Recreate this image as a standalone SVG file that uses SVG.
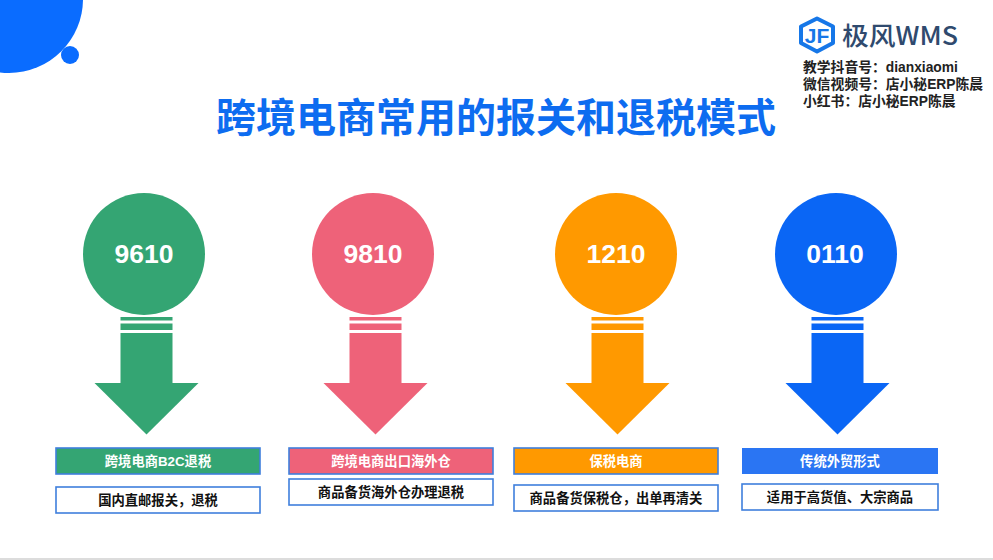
<svg xmlns="http://www.w3.org/2000/svg" width="993" height="560" viewBox="0 0 993 560">
<defs>
<style>
text{font-family:"Liberation Sans","Noto Sans CJK SC",sans-serif;font-weight:700;}
.t{font-family:"Noto Sans CJK SC",sans-serif;font-size:40px;fill:#0d6cf0;text-anchor:middle;}
.n{font-size:26.500px;fill:#fff;text-anchor:middle;}
.h{font-size:13.300px;fill:#fff;text-anchor:middle;}
.d{font-size:13.300px;fill:#111;text-anchor:middle;}
.s{font-size:13.800px;fill:#222;}
.b{fill:#fff;stroke:#3f7fdc;stroke-width:1.6;}
.hb{stroke:#3f7fdc;stroke-width:1.6;}
</style>
<g id="arrow">
<rect x="-26" y="63" width="52" height="3.500"/>
<rect x="-26" y="69.500" width="52" height="6.500"/>
<rect x="-26" y="79" width="52" height="50"/>
<path d="M-52 129H52L0 180.500Z"/>
</g>
</defs>
<rect width="993" height="560" fill="#fff"/>
<rect y="558" width="993" height="2" fill="#dcdcdc"/>
<g id="decor" fill="#0a6cff">
<circle cx="9" cy="-1" r="74"/>
<circle cx="70" cy="55" r="9"/>
</g>
<g id="logo">
<path d="M817 18.500L833 26.500V43L817 51.500L801 43V26.500Z" fill="#fff" stroke="#1677e8" stroke-width="4" stroke-linejoin="round"/>
<text x="817" y="42.500" font-size="21" fill="#1677e8" text-anchor="middle">JF</text>
<text x="842" y="45" font-size="25" fill="#2f4a6e" style="font-family:'Noto Sans CJK SC',sans-serif;font-weight:500" textLength="116" lengthAdjust="spacingAndGlyphs">极风WMS</text>
</g>
<g id="info">
<text class="s" x="803" y="72">教学抖音号：dianxiaomi</text>
<text class="s" x="803" y="89">微信视频号：店小秘ERP陈晨</text>
<text class="s" x="803" y="105.500">小红书：店小秘ERP陈晨</text>
</g>
<text id="title" class="t" x="496" y="132">跨境电商常用的报关和退税模式</text>
<g id="connectors">
<use href="#arrow" x="146.500" y="254" fill="#34a573"/>
<use href="#arrow" x="375.500" y="254" fill="#ee6279"/>
<use href="#arrow" x="617.500" y="254" fill="#ff9900"/>
<use href="#arrow" x="837.500" y="254" fill="#0a66f5"/>
</g>
<g id="node-9610">
<circle cx="144" cy="254" r="61" fill="#34a573"/>
<text class="n" x="144" y="263">9610</text>
<rect class="hb" x="56" y="448" width="204" height="26" fill="#34a573"/>
<text class="h" x="158" y="466">跨境电商B2C退税</text>
<rect class="b" x="56" y="487" width="204" height="26"/>
<text class="d" x="158" y="505">国内直邮报关，退税</text>
</g>
<g id="node-9810">
<circle cx="373" cy="254" r="61" fill="#ee6279"/>
<text class="n" x="373" y="263">9810</text>
<rect class="hb" x="289" y="448" width="204" height="26" fill="#ee6279"/>
<text class="h" x="391" y="466">跨境电商出口海外仓</text>
<rect class="b" x="289" y="479" width="204" height="26"/>
<text class="d" x="391" y="497">商品备货海外仓办理退税</text>
</g>
<g id="node-1210">
<circle cx="616" cy="254" r="61" fill="#ff9900"/>
<text class="n" x="616" y="263">1210</text>
<rect class="hb" x="514" y="448" width="204" height="26" fill="#ff9900"/>
<text class="h" x="616" y="466">保税电商</text>
<rect class="b" x="514" y="485" width="204" height="26"/>
<text class="d" x="616" y="503">商品备货保税仓，出单再清关</text>
</g>
<g id="node-0110">
<circle cx="836" cy="254" r="61" fill="#0a66f5"/>
<text class="n" x="835" y="263">0110</text>
<rect x="742" y="448" width="196" height="26" fill="#2a75f3"/>
<text class="h" x="840" y="466">传统外贸形式</text>
<rect class="b" x="742" y="484" width="196" height="26"/>
<text class="d" x="840" y="502">适用于高货值、大宗商品</text>
</g>
</svg>
